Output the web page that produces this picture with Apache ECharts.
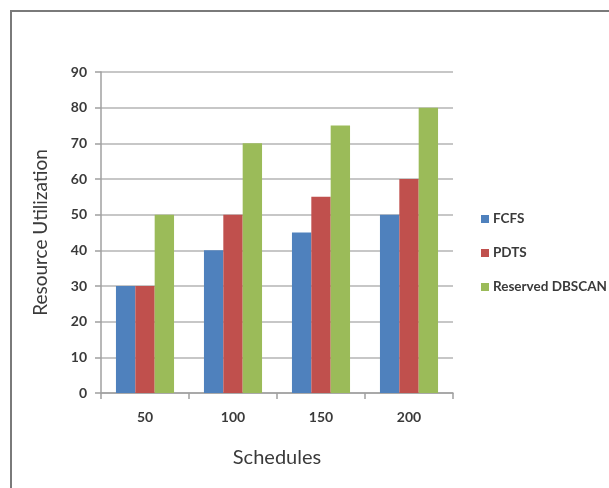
<!DOCTYPE html>
<html>
<head>
<meta charset="utf-8">
<script src="https://cdn.jsdelivr.net/npm/echarts@6/dist/echarts.min.js"></script>
<style>
  html, body { margin: 0; padding: 0; background: #ffffff; overflow: hidden; }
  #chart { width: 609px; height: 488px; }
</style>
</head>
<body>
<div id="chart"></div>
<script>
// Resource utilization per schedule count, three scheduling methods
const categories = ['50', '100', '150', '200'];
const fcfs = [30, 40, 45, 50];
const pdts = [30, 50, 55, 60];
const reservedDbscan = [50, 70, 75, 80];
const seriesNames = ['FCFS', 'PDTS', 'Reserved DBSCAN'];
const yTicks = { min: 0, max: 90, interval: 10 };

const textFont = 'Lato, "Open Sans", sans-serif';
const textColor = '#3a3a3a';

const chart = echarts.init(document.getElementById('chart'), null, { renderer: 'canvas' });

// Chart-area frame: only its top and left edges fall inside the view
const frameStyle = { stroke: '#7a7a7a', lineWidth: 2 };

chart.setOption({
  animation: false,
  backgroundColor: '#ffffff',
  color: ['#4F81BD', '#C0504D', '#9BBB59'],
  graphic: [
    { type: 'line', shape: { x1: 10, y1: 11, x2: 609, y2: 11 }, style: frameStyle, silent: true },
    { type: 'line', shape: { x1: 11, y1: 10, x2: 11, y2: 488 }, style: frameStyle, silent: true }
  ],
  grid: { left: 101, right: 609 - 453, top: 72, bottom: 488 - 393 },
  legend: {
    orient: 'vertical',
    left: 476,
    top: 207,
    itemWidth: 8,
    itemHeight: 8,
    itemGap: 20,
    icon: 'rect',
    textStyle: { fontFamily: textFont, fontSize: 13.5, fontWeight: 'bold', color: textColor, padding: [0, 0, 0, -1] },
    data: seriesNames
  },
  xAxis: {
    type: 'category',
    data: categories,
    name: 'Schedules',
    nameLocation: 'middle',
    nameGap: 55,
    nameTextStyle: { fontFamily: textFont, fontSize: 20, color: textColor },
    axisLine: { lineStyle: { color: '#a0a0a0', width: 1.5 } },
    axisTick: { show: true, length: 6, lineStyle: { color: '#a0a0a0', width: 1.5 } },
    axisLabel: { margin: 17, fontFamily: textFont, fontSize: 14, fontWeight: 'bold', color: textColor }
  },
  yAxis: {
    type: 'value',
    min: yTicks.min,
    max: yTicks.max,
    interval: yTicks.interval,
    name: 'Resource Utilization',
    nameLocation: 'middle',
    nameGap: 51,
    nameTextStyle: { fontFamily: textFont, fontSize: 19, color: textColor },
    axisLine: { show: true, lineStyle: { color: '#a0a0a0', width: 1.5 } },
    axisTick: { show: true, length: 6, lineStyle: { color: '#a0a0a0', width: 1.5 } },
    axisLabel: { margin: 14, fontFamily: textFont, fontSize: 14, fontWeight: 'bold', color: textColor },
    splitLine: { show: true, lineStyle: { color: '#b4b4b4', width: 1.5 } }
  },
  series: [
    { name: seriesNames[0], type: 'bar', data: fcfs, barGap: '0%', barCategoryGap: '34%' },
    { name: seriesNames[1], type: 'bar', data: pdts, barGap: '0%', barCategoryGap: '34%' },
    { name: seriesNames[2], type: 'bar', data: reservedDbscan, barGap: '0%', barCategoryGap: '34%' }
  ]
});
</script>
</body>
</html>
